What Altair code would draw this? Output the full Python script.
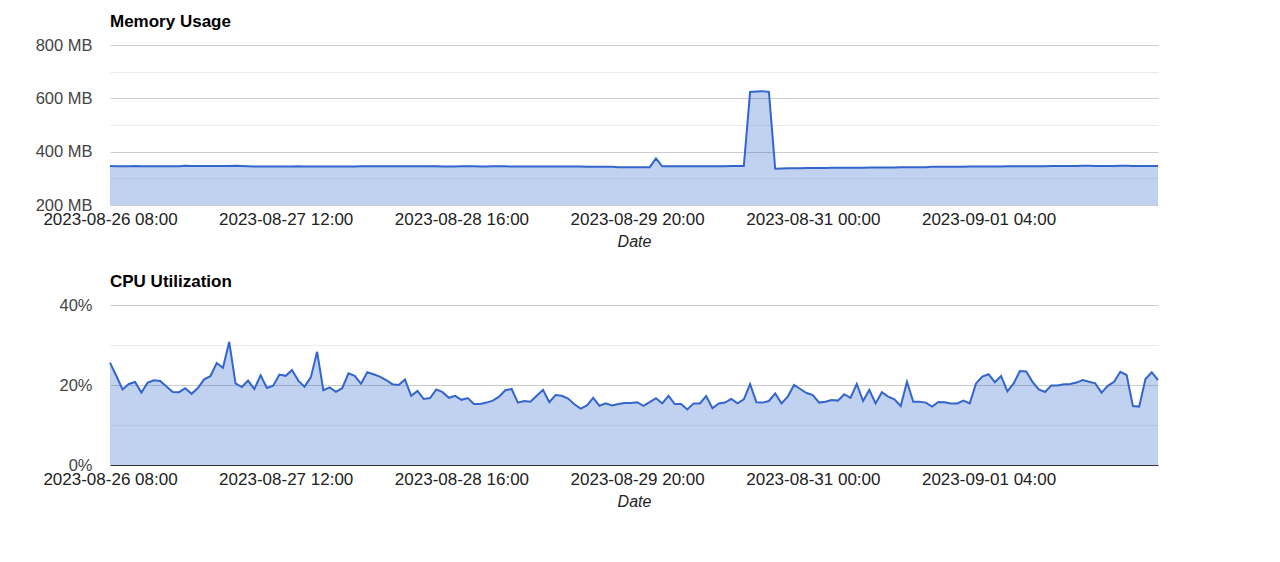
import altair as alt
import pandas as pd

START = "2023-08-26 08:00"

cpu_pct = [
    25.6, 22.3, 18.9, 20.25, 20.75, 18.1, 20.6, 21.2, 21.0, 19.6,
    18.25, 18.2, 19.2, 17.8, 19.25, 21.4, 22.2, 25.5, 24.3, 30.8,
    20.4, 19.5, 21.1, 19.0, 22.4, 19.25, 19.8, 22.6, 22.3, 23.75,
    21.1, 19.6, 21.9, 28.3, 18.7, 19.4, 18.3, 19.2, 22.9, 22.3,
    20.3, 23.2, 22.7, 22.1, 21.25, 20.2, 20.0, 21.4, 17.3, 18.5,
    16.5, 16.75, 18.9, 18.2, 16.8, 17.3, 16.3, 16.75, 15.25, 15.25,
    15.6, 16.1, 17.1, 18.7, 19.0, 15.6, 16.0, 15.8, 17.3, 18.8,
    15.7, 17.5, 17.3, 16.6, 15.2, 14.1, 14.9, 16.8, 14.8, 15.4,
    14.9, 15.25, 15.5, 15.5, 15.7, 14.8, 15.7, 16.7, 15.4, 17.3,
    15.25, 15.25, 13.9, 15.4, 15.4, 17.25, 14.2, 15.4, 15.6, 16.5,
    15.4, 16.4, 20.25, 15.7, 15.6, 16.0, 17.9, 15.4, 17.1, 20.0,
    19.0, 18.0, 17.5, 15.6, 15.8, 16.25, 16.1, 17.7, 16.8, 20.25,
    16.0, 18.75, 15.4, 18.2, 17.1, 16.4, 14.75, 20.8, 15.8, 15.8,
    15.6, 14.6, 15.75, 15.7, 15.4, 15.4, 16.1, 15.4, 20.4, 22.1,
    22.7, 20.7, 22.25, 18.4, 20.4, 23.5, 23.4, 20.8, 18.9, 18.25,
    19.9, 19.9, 20.2, 20.25, 20.6, 21.25, 20.8, 20.4, 18.1, 19.8,
    20.8, 23.3, 22.5, 14.75, 14.6, 21.5, 23.2, 21.25,
]

memory_mb = [
    346, 345, 345, 345, 346, 345, 345, 345, 345, 345,
    345, 345, 347, 346, 346, 346, 346, 346, 346, 346,
    347, 346, 345, 344, 344, 344, 344, 344, 344, 344,
    345, 344, 344, 344, 344, 344, 344, 344, 344, 344,
    345, 345, 345, 345, 345, 345, 345, 345, 345, 345,
    345, 345, 345, 344, 344, 344, 345, 345, 345, 344,
    344, 345, 345, 345, 344, 344, 344, 344, 344, 344,
    344, 344, 344, 344, 344, 344, 343, 343, 343, 343,
    343, 342, 342, 342, 342, 342, 342, 375, 345, 345,
    345, 345, 345, 345, 345, 345, 345, 345, 345, 346,
    346, 346, 624, 626, 627, 624, 336, 337, 338, 338,
    338, 339, 339, 339, 339, 340, 340, 340, 340, 340,
    340, 341, 341, 341, 341, 341, 342, 342, 342, 342,
    342, 343, 343, 343, 343, 343, 343, 344, 344, 344,
    344, 344, 344, 345, 345, 345, 345, 345, 345, 345,
    346, 346, 346, 346, 346, 347, 347, 346, 346, 346,
    346, 347, 347, 346, 346, 346, 346, 346,
]

tick_labels = [
    "2023-08-26 08:00", "2023-08-27 12:00", "2023-08-28 16:00",
    "2023-08-29 20:00", "2023-08-31 00:00", "2023-09-01 04:00",
]


def to_dt(s):
    ts = pd.Timestamp(s)
    return alt.DateTime(year=ts.year, month=ts.month, date=ts.day,
                        hours=ts.hour, minutes=ts.minute)


times = pd.date_range(START, periods=len(cpu_pct), freq="h")
df = pd.DataFrame({
    "t": times.strftime("%Y-%m-%dT%H:%M:%S"),
    "cpu": cpu_pct,
    "mem": memory_mb,
})

FONT = "Liberation Sans"
LINE = "#3366cc"
W, H = 1048, 160

x_dom = [to_dt(times[0]), to_dt(times[-1])]
tick_vals = [to_dt(s) for s in tick_labels]


def x_enc(baseline):
    return alt.X(
        "t:T",
        scale=alt.Scale(domain=x_dom, nice=False),
        axis=alt.Axis(
            values=tick_vals, format="%Y-%m-%d %H:%M", grid=False, ticks=False,
            domain=baseline, domainColor="#333333", domainWidth=1,
            labelFont=FONT, labelFontSize=17, labelColor="#222222",
            labelPadding=6, labelOverlap=False, labelFlush=False,
            title="Date", titleFont=FONT, titleFontSize=16,
            titleFontStyle="italic", titleFontWeight="normal",
            titleColor="#222222", titlePadding=6,
        ),
    )


def y_axis(vals, major, suffix):
    return alt.Axis(
        values=vals,
        labelExpr=f"datum.value % {major} == 0 ? datum.value + '{suffix}' : ''",
        gridColor={"condition": {"test": f"datum.value % {major} == 0", "value": "#cccccc"},
                   "value": "#ebebeb"},
        ticks=False, domain=False, labelFont=FONT, labelFontSize=16.5,
        labelColor="#444444", labelPadding=18, minExtent=97, title=None,
    )


def panel(field, ymin, ymax, vals, major, suffix, title, baseline):
    y = alt.Y(f"{field}:Q", scale=alt.Scale(domain=[ymin, ymax], nice=False, zero=False),
              axis=y_axis(vals, major, suffix))
    base = alt.Chart(df).encode(x=x_enc(baseline))
    area = base.mark_area(color=LINE, opacity=0.3).encode(y=y, y2=alt.datum(ymin))
    line = base.mark_line(color=LINE, strokeWidth=2).encode(y=y)
    return alt.layer(area, line).properties(
        width=W, height=H,
        title=alt.TitleParams(title, anchor="start", frame="group", font=FONT,
                              fontSize=17, fontWeight="bold", color="#000000", offset=6),
    )


mem_chart = panel("mem", 200, 800, [200, 300, 400, 500, 600, 700, 800], 200, " MB",
                  "Memory Usage", False)
cpu_chart = panel("cpu", 0, 40, [0, 10, 20, 30, 40], 20, "%",
                  "CPU Utilization", True)

chart = alt.vconcat(mem_chart, cpu_chart, spacing=24).configure(
    background="white"
).configure_view(strokeWidth=0)

chart.save("out.html", embed_options={"renderer": "svg", "actions": False})
